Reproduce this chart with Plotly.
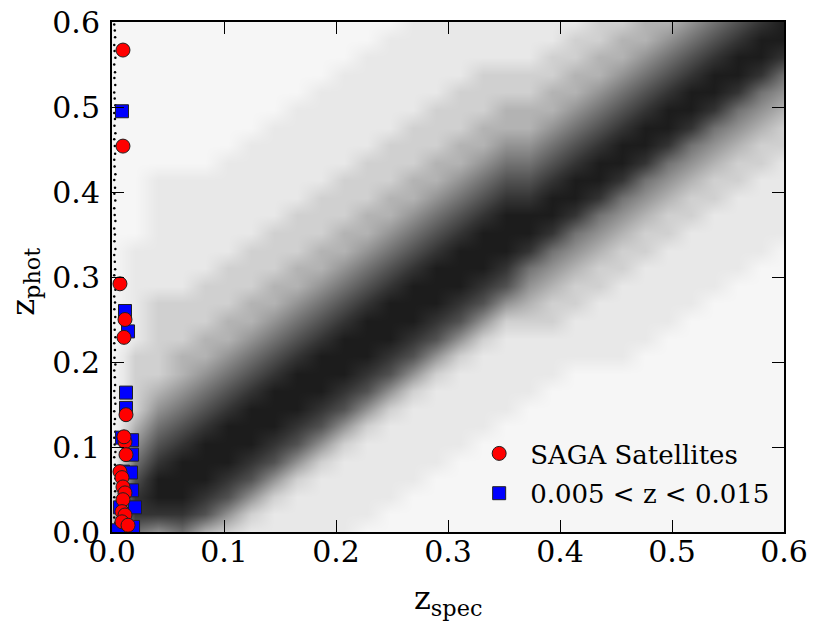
import plotly.graph_objects as go

# photo-z vs spec-z field sample, binned in 0.02 x 0.02 cells.
# density level 0 (empty) .. 9 (solid), estimated by eye from the figure.
# rows run top to bottom: first row is z_phot 0.58-0.60
density_rows = [
    "111111111111122222222334456789",
    "111111111111222222223344567899",
    "111111111112222222233445678998",
    "111111111122222233334456789986",
    "111111111222222333344567899865",
    "111111112222223334445678998654",
    "111111122222233344456789986543",
    "111111222222333445567899865433",
    "111112222223334456678998654332",
    "112222222233344567789986543322",
    "112222222333445678899865433222",
    "112222223334456789998654332222",
    "112222233344567899986543322222",
    "122222333445678999865433222221",
    "122223334456789998654332222211",
    "122233344567899987543322222111",
    "123333445678999875433222221111",
    "123334456789998753332222211111",
    "123344567899987532222222111111",
    "133445678999875322222221111111",
    "133456789998753222221111111111",
    "134567899987532222211111111111",
    "135678999875322222111111111111",
    "146789998753222221111111111111",
    "157899987532222211111111111111",
    "168999875322222111111111111111",
    "179998753222221111111111111111",
    "289987532222211111111111111111",
    "388875322222111111111111111111",
    "465643222221111111111111111111",
]
# sample positions of the grid, stretched so the smoothed map fills 0..0.6
grid_pos = [0.6 * i / 29 for i in range(30)]

# z_spec ~ 0 objects piled up against the left axis
star_y = [0.004, 0.011, 0.017, 0.026, 0.033, 0.041, 0.048, 0.057, 0.063, 0.072,
          0.079, 0.088, 0.094, 0.103, 0.111, 0.118, 0.127, 0.133, 0.142, 0.151,
          0.158, 0.166, 0.173, 0.182, 0.19, 0.197, 0.205, 0.214, 0.222, 0.229,
          0.238, 0.246, 0.253, 0.262, 0.27, 0.277, 0.285, 0.294, 0.302, 0.309,
          0.318, 0.326, 0.333, 0.342, 0.35, 0.357, 0.366, 0.373, 0.381, 0.39,
          0.398, 0.405, 0.414, 0.421, 0.43, 0.438, 0.445, 0.454, 0.462, 0.469,
          0.478, 0.486, 0.493, 0.502, 0.51, 0.517, 0.526, 0.534, 0.541, 0.55,
          0.558, 0.566, 0.573, 0.582, 0.59, 0.597]
star_x = [0.002, 0.003, 0.002, 0.0025, 0.003, 0.002, 0.0028, 0.002, 0.003, 0.0022,
          0.0026, 0.002, 0.003, 0.0024, 0.002, 0.0029, 0.0021, 0.0027, 0.002, 0.003,
          0.0023, 0.002, 0.0028, 0.0025, 0.002, 0.003, 0.0022, 0.0026, 0.002, 0.003,
          0.0024, 0.002, 0.0029, 0.0021, 0.0027, 0.002, 0.003, 0.0023, 0.002, 0.0028,
          0.0025, 0.002, 0.003, 0.0022, 0.0026, 0.002, 0.003, 0.0024, 0.002, 0.0029,
          0.0021, 0.0027, 0.002, 0.003, 0.0023, 0.002, 0.0028, 0.0025, 0.002, 0.003,
          0.0022, 0.0026, 0.002, 0.003, 0.0024, 0.002, 0.0029, 0.0021, 0.0027, 0.002,
          0.003, 0.0023, 0.002, 0.0028, 0.0025, 0.002]

# SAGA satellites
sat_x = [0.0098, 0.0098, 0.0071, 0.0116, 0.0107, 0.0125, 0.0116, 0.0125, 0.0107,
         0.0071, 0.0089, 0.0098, 0.0116, 0.0098, 0.0089, 0.0116, 0.0089, 0.0143]
sat_y = [0.567, 0.454, 0.292, 0.25, 0.229, 0.138, 0.106, 0.091, 0.112,
         0.071, 0.064, 0.053, 0.046, 0.038, 0.024, 0.02, 0.012, 0.008]

# galaxies with 0.005 < z_spec < 0.015
win_x = [0.0089, 0.0116, 0.0143, 0.0125, 0.0125, 0.0089, 0.0179, 0.0179, 0.0098,
         0.0179, 0.0205, 0.0071, 0.0188, 0.0054, 0.0170]
win_y = [0.495, 0.26, 0.236, 0.164, 0.146, 0.111, 0.108, 0.091, 0.071,
         0.049, 0.029, 0.029, 0.006, 0.002, 0.070]

z = [[int(c) for c in row] for row in density_rows[::-1]]

grays = ["#ffffff", "#f6f6f6", "#e8e8e8", "#d0d0d0", "#b3b3b3",
         "#939393", "#727272", "#525252", "#343434", "#1c1c1c"]
colorscale = [[i / 9, g] for i, g in enumerate(grays)]

fig = go.Figure()

fig.add_trace(go.Heatmap(
    x=grid_pos, y=grid_pos, z=z,
    zmin=0, zmax=9, colorscale=colorscale,
    zsmooth="best", showscale=False, hoverinfo="skip",
))

fig.add_trace(go.Scatter(
    x=star_x, y=star_y, mode="markers",
    marker=dict(color="black", size=2.5),
    showlegend=False, hoverinfo="skip",
))

fig.add_trace(go.Scatter(
    x=win_x, y=win_y, mode="markers",
    name="0.005 &lt; z &lt; 0.015", legendrank=2, legendgroup="win",
    marker=dict(symbol="square", color="#0000ff", size=13,
                line=dict(color="#202020", width=1)),
))

fig.add_trace(go.Scatter(
    x=sat_x, y=sat_y, mode="markers",
    name="SAGA Satellites", legendrank=1, legendgroup="sat",
    marker=dict(symbol="circle", color="#ff0000", size=14,
                line=dict(color="#202020", width=1)),
))

axis_common = dict(
    range=[0, 0.6], dtick=0.1, tickformat=".1f",
    showline=True, linewidth=2, linecolor="black", mirror="allticks",
    ticks="inside", ticklen=12, tickwidth=1.3, tickcolor="black",
    showgrid=False, zeroline=False, automargin=False,
    ticklabeloverflow="allow",
    tickfont=dict(family="DejaVu Serif", size=30, color="black"),
)

# page body adds an 8px offset, so the figure is 8px smaller than the window
fig.update_layout(
    width=822, height=626,
    margin=dict(l=104, r=46, t=14, b=102),
    plot_bgcolor="white", paper_bgcolor="white",
    font=dict(family="DejaVu Serif", color="black"),
    xaxis=dict(axis_common, ticklabelstandoff=-8),
    yaxis=dict(axis_common, ticklabelstandoff=4),
    legend=dict(x=0.53, y=0.2, xanchor="left", yanchor="top",
                bgcolor="rgba(0,0,0,0)", font=dict(size=26),
                itemsizing="trace", itemwidth=52, tracegroupgap=3),
    annotations=[
        dict(text="z<sub>spec</sub>", xref="paper", yref="paper",
             x=0.5, y=-0.133, xanchor="center", yanchor="middle",
             showarrow=False, font=dict(size=32)),
        dict(text="z<sub>phot</sub>", xref="paper", yref="paper",
             x=-0.13, y=0.49, xanchor="center", yanchor="middle",
             textangle=-90, showarrow=False, font=dict(size=32)),
    ],
)

fig.write_html("out.html")
